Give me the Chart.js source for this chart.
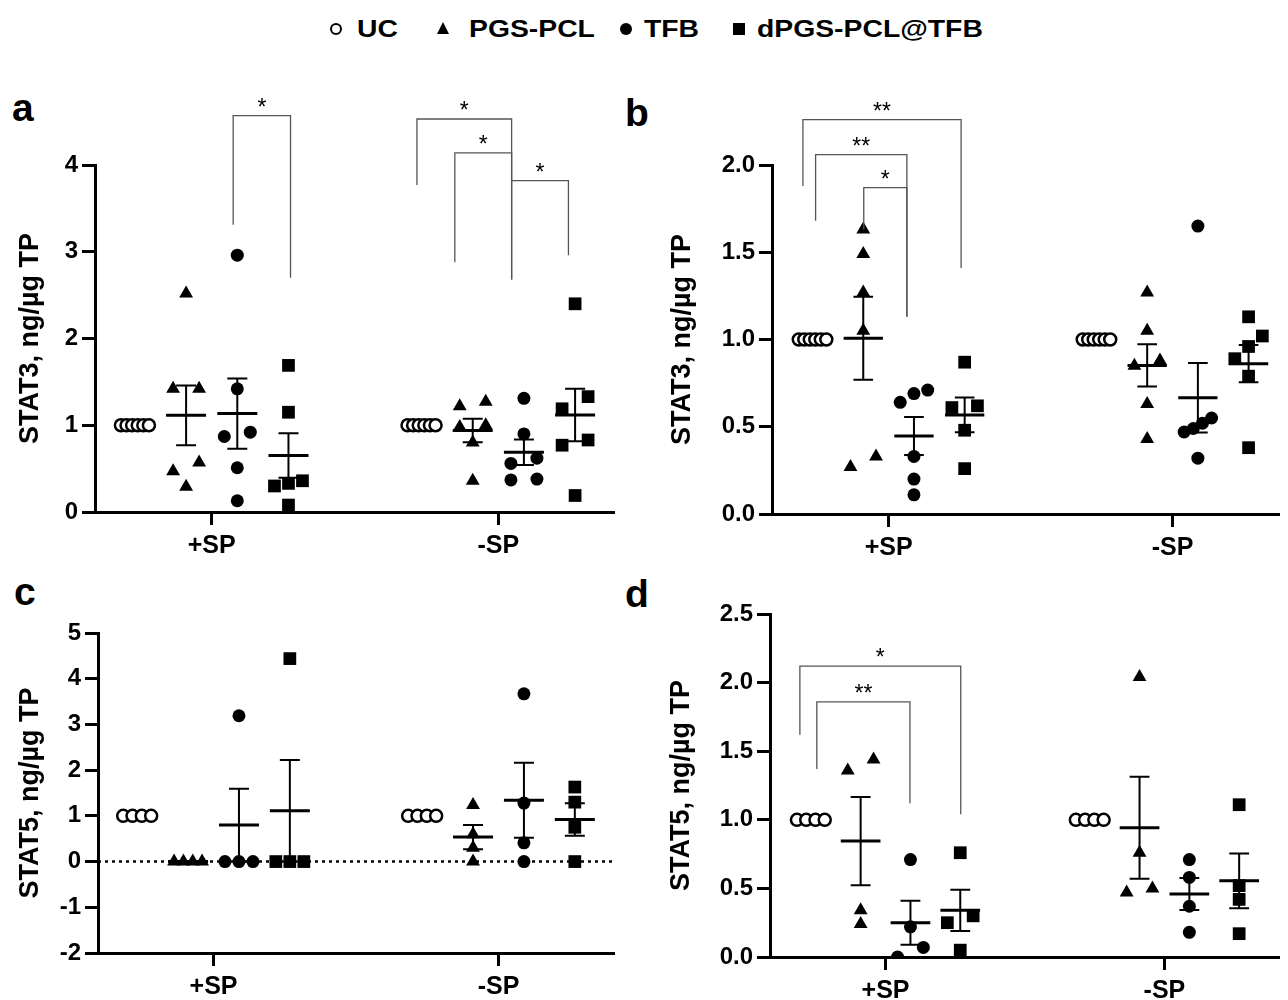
<!DOCTYPE html>
<html>
<head>
<meta charset="utf-8">
<script src="https://cdn.jsdelivr.net/npm/chart.js@4.4.1/dist/chart.umd.min.js"></script>
<style>
  body { margin: 0; background: #fff; width: 1288px; height: 1000px; position: relative; overflow: hidden;
         font-family: "Liberation Sans", Arial, sans-serif; }
  canvas { position: absolute; }
  .letra { position: absolute; font-weight: bold; font-size: 39px; line-height: 39px; }
  .tx { position: absolute; top: 17px; font-weight: bold; font-size: 24px; line-height: 24px;
        transform: scaleX(1.18); transform-origin: left center; white-space: nowrap; }
  .mk { position: absolute; box-sizing: border-box; }
</style>
</head>
<body>
<div class="mk" style="left:330px;top:23px;width:12px;height:12px;border:2.5px solid #000;border-radius:50%"></div>
<div class="tx" style="left:357px">UC</div>
<div class="mk" style="left:437px;top:22px;width:0;height:0;border-left:6px solid transparent;border-right:6px solid transparent;border-bottom:12px solid #000"></div>
<div class="tx" style="left:469px">PGS-PCL</div>
<div class="mk" style="left:620px;top:23px;width:12px;height:12px;background:#000;border-radius:50%"></div>
<div class="tx" style="left:644px">TFB</div>
<div class="mk" style="left:733px;top:23px;width:12px;height:12px;background:#000"></div>
<div class="tx" style="left:757px">dPGS-PCL@TFB</div>

<div class="letra" style="left:12px;top:88px">a</div>
<div class="letra" style="left:625px;top:93px">b</div>
<div class="letra" style="left:14px;top:572px">c</div>
<div class="letra" style="left:625px;top:574px">d</div>

<canvas id="pa" width="640" height="480" style="left:0;top:90px"></canvas>
<canvas id="pb" width="648" height="480" style="left:640px;top:90px"></canvas>
<canvas id="pc" width="640" height="420" style="left:0;top:580px"></canvas>
<canvas id="pd" width="648" height="420" style="left:640px;top:580px"></canvas>

<script>
// Grupos del eje X y series (UC, PGS-PCL, TFB, dPGS-PCL@TFB)
const grupos = ['+SP', '-SP'];
const series = ['UC', 'PGS-PCL', 'TFB', 'dPGS-PCL@TFB'];

// a: STAT3 (cada array: [+SP], [-SP])
const a_UC   = [[1, 1, 1, 1, 1, 1], [1, 1, 1, 1, 1, 1]];
const a_PGS  = [[2.52, 1.42, 1.42, 0.57, 0.47, 0.29], [1.22, 1.27, 0.98, 1.00, 0.80, 0.36]];
const a_TFB  = [[2.96, 1.42, 0.87, 0.92, 0.51, 0.13], [1.31, 0.90, 0.62, 0.56, 0.38, 0.37]];
const a_dPGS = [[1.69, 1.15, 0.36, 0.33, 0.30, 0.08], [2.40, 1.33, 1.19, 0.83, 0.77, 0.19]];

// b: STAT3
const b_UC   = [[1, 1, 1, 1, 1, 1], [1, 1, 1, 1, 1, 1]];
const b_PGS  = [[1.63, 1.49, 1.27, 1.05, 0.27, 0.33], [1.27, 1.05, 0.85, 0.88, 0.63, 0.43]];
const b_TFB  = [[0.69, 0.71, 0.64, 0.33, 0.20, 0.11], [1.65, 0.55, 0.52, 0.49, 0.47, 0.32]];
const b_dPGS = [[0.87, 0.61, 0.62, 0.48, 0.26], [1.13, 1.02, 0.96, 0.89, 0.79, 0.38]];

// c: STAT5
const c_UC   = [[1, 1, 1, 1], [1, 1, 1, 1]];
const c_PGS  = [[0, 0, 0, 0], [1.24, 0.60, 0.30, 0]];
const c_TFB  = [[3.19, 0, 0, 0], [3.67, 1.28, 0.41, 0]];
const c_dPGS = [[4.44, 0, 0, 0], [1.63, 1.30, 0.75, 0]];

// d: STAT5
const d_UC   = [[1, 1, 1, 1], [1, 1, 1, 1]];
const d_PGS  = [[1.36, 1.44, 0.34, 0.24], [2.04, 0.76, 0.47, 0.50]];
const d_TFB  = [[0.71, 0.22, 0.07, 0], [0.71, 0.58, 0.37, 0.18]];
const d_dPGS = [[0.76, 0.30, 0.25, 0.05], [1.11, 0.52, 0.42, 0.17]];

// ticks del eje Y
const a_ticks = [0, 1, 2, 3, 4];
const b_ticks = [0, 0.5, 1, 1.5, 2];
const b_tickLabels = ['0.0', '0.5', '1.0', '1.5', '2.0'];
const c_ticks = [-2, -1, 0, 1, 2, 3, 4, 5];
const d_ticks = [0, 0.5, 1, 1.5, 2, 2.5];
const d_tickLabels = ['0.0', '0.5', '1.0', '1.5', '2.0', '2.5'];

// corchetes de significancia: [x1, x2, yArriba, yPataIzq, yPataDer, texto]
const a_sig = [[1.92, 3.04, 4.57, 3.31, 2.70, '*'], [5.51, 7.36, 4.53, 3.77, 2.68, '*'],
               [6.25, 7.36, 4.14, 2.88, 2.68, '*'], [7.36, 8.47, 3.82, 3.82, 2.96, '*']];
const b_sig = [[-0.19, 2.93, 2.26, 1.88, 1.41, '**'], [0.06, 1.86, 2.06, 1.68, 1.13, '**'],
               [1.01, 1.86, 1.87, 1.63, 1.13, '*']];
const d_sig = [[-0.22, 3.01, 2.12, 1.62, 1.04, '*'], [0.12, 1.99, 1.86, 1.37, 1.12, '**']];

Chart.defaults.font.family = '"Liberation Sans", Arial, sans-serif';
Chart.defaults.color = '#000';

const centrosGrupo = [1.5, 7.1];
const posSerie = [-1.5, -0.5, 0.5, 1.5];
const estilos = [
  { pointStyle: 'circle', pointRadius: 6, backgroundColor: '#fff', borderColor: '#000', borderWidth: 2.5 },
  { pointStyle: 'triangle', pointRadius: 8, backgroundColor: '#000', borderColor: '#000', borderWidth: 0 },
  { pointStyle: 'circle', pointRadius: 6.5, backgroundColor: '#000', borderColor: '#000', borderWidth: 0 },
  { pointStyle: 'rect', pointRadius: 9, backgroundColor: '#000', borderColor: '#000', borderWidth: 0 }
];

// reparte en fila los puntos que se pisan (como en Prism)
function enjambre(vals, cx, pxX, pxY) {
  const idx = vals.map((v, i) => i).sort((i, j) => vals[i] - vals[j]);
  const filas = [];
  idx.forEach(i => {
    const f = filas[filas.length - 1];
    if (f && (vals[i] - vals[f[f.length - 1]]) * pxY < 12.5) f.push(i);
    else filas.push([i]);
  });
  const pts = [];
  filas.forEach(f => {
    const k = f.length;
    const paso = k > 1 ? Math.min(26, 28 / (k - 1)) : 0;
    f.forEach((i, j) => pts.push({ x: cx + (j - (k - 1) / 2) * paso / pxX, y: vals[i] }));
  });
  return pts;
}

function resumen(v) {
  const n = v.length;
  const m = v.reduce((s, x) => s + x, 0) / n;
  const sd = Math.sqrt(v.reduce((s, x) => s + (x - m) ** 2, 0) / (n - 1));
  return { m, sem: sd / Math.sqrt(n) };
}

const corchetes = {
  id: 'corchetes',
  afterDraw(chart, args, opts) {
    const { ctx, scales: { x, y } } = chart;
    ctx.save();
    ctx.strokeStyle = '#555';
    ctx.lineWidth = 1.3;
    ctx.fillStyle = '#000';
    ctx.font = '23px "Liberation Sans", Arial, sans-serif';
    ctx.textAlign = 'center';
    ctx.textBaseline = 'alphabetic';
    (opts.items || []).forEach(([x1, x2, yt, yi, yd, txt]) => {
      const p1 = x.getPixelForValue(x1), p2 = x.getPixelForValue(x2), pt = y.getPixelForValue(yt);
      ctx.beginPath();
      ctx.moveTo(p1, y.getPixelForValue(yi));
      ctx.lineTo(p1, pt);
      ctx.lineTo(p2, pt);
      ctx.lineTo(p2, y.getPixelForValue(yd));
      ctx.stroke();
      ctx.fillText(txt, (p1 + p2) / 2, pt - 1);
    });
    ctx.restore();
  }
};

function crearPanel(id, cfg) {
  const plotW = cfg.w - cfg.yW - cfg.padR;
  const plotH = cfg.h - cfg.padT - cfg.xH;
  const pxX = plotW / (cfg.xMax - cfg.xMin);
  const pxY = plotH / (cfg.yMax - cfg.yMin);
  const hw = 20 / pxX, cw = 10 / pxX;
  const hueco = () => ({ x: null, y: null });

  const medias = [], barras = [];
  const datasets = cfg.datos.map((serie, s) => {
    const pts = [];
    serie.forEach((vals, g) => {
      const cx = centrosGrupo[g] + posSerie[s];
      pts.push(...enjambre(vals, cx, pxX, pxY));
      const { m, sem } = resumen(vals);
      medias.push({ x: cx - hw, y: m }, { x: cx + hw, y: m }, hueco());
      if (sem > 0) {
        barras.push({ x: cx, y: m - sem }, { x: cx, y: m + sem }, hueco(),
          { x: cx - cw, y: m + sem }, { x: cx + cw, y: m + sem }, hueco(),
          { x: cx - cw, y: m - sem }, { x: cx + cw, y: m - sem }, hueco());
      }
    });
    return Object.assign({ label: series[s], data: pts, pointHoverRadius: 0 }, estilos[s]);
  });
  const linea = (data, w, dash) => ({ data, showLine: true, borderColor: '#000', borderWidth: w,
    borderDash: dash || [], pointRadius: 0, spanGaps: false });
  datasets.push(linea(medias, 3), linea(barras, 2));
  if (cfg.cero) datasets.push(linea([{ x: cfg.xMin, y: 0 }, { x: cfg.xMax, y: 0 }], 2.5, [3, 4]));

  new Chart(document.getElementById(id), {
    type: 'scatter',
    data: { datasets },
    plugins: [corchetes],
    options: {
      responsive: false,
      animation: false,
      events: [],
      layout: { padding: { top: cfg.padT, right: cfg.padR, left: 0, bottom: 0 } },
      plugins: { legend: { display: false }, tooltip: { enabled: false }, corchetes: { items: cfg.sig || [] } },
      scales: {
        x: {
          type: 'linear', min: cfg.xMin, max: cfg.xMax,
          afterBuildTicks: s => { s.ticks = centrosGrupo.map(v => ({ value: v })); },
          afterFit: s => { s.height = cfg.xH; },
          ticks: { callback: (v, i) => grupos[i], font: { size: 25, weight: 'bold' }, color: '#000',
                   padding: 6, maxRotation: 0, autoSkip: false },
          grid: { drawOnChartArea: false, drawTicks: true, tickLength: 13, tickWidth: 3, tickColor: '#000' },
          border: { color: '#000', width: 3 }
        },
        y: {
          min: cfg.yMin, max: cfg.yMax,
          afterBuildTicks: s => { s.ticks = cfg.ticks.map(v => ({ value: v })); },
          afterFit: s => { s.width = cfg.yW; },
          ticks: { callback: (v, i) => cfg.tickLabels[i], font: { size: 24, weight: 'bold' }, color: '#000', padding: 4 },
          grid: { drawOnChartArea: false, drawTicks: true, tickLength: 13, tickWidth: 3, tickColor: '#000' },
          border: { color: '#000', width: 3 },
          title: { display: true, text: cfg.titulo, font: { size: 27, weight: 'bold' }, color: '#000',
                   padding: { top: cfg.titPad, bottom: 0 } }
        }
      }
    }
  });
}

crearPanel('pa', { w: 640, h: 480, yW: 95, padR: 26, padT: 75, xH: 58, xMin: -0.78, xMax: 9.36,
  yMin: 0, yMax: 4, ticks: a_ticks, tickLabels: a_ticks.map(String), titulo: 'STAT3, ng/µg TP', titPad: 14,
  datos: [a_UC, a_PGS, a_TFB, a_dPGS], sig: a_sig });
crearPanel('pb', { w: 648, h: 480, yW: 132, padR: 0, padT: 75, xH: 56, xMin: -0.8, xMax: 9.2,
  yMin: 0, yMax: 2, ticks: b_ticks, tickLabels: b_tickLabels, titulo: 'STAT3, ng/µg TP', titPad: 26,
  datos: [b_UC, b_PGS, b_TFB, b_dPGS], sig: b_sig });
crearPanel('pc', { w: 640, h: 420, yW: 98, padR: 26, padT: 53, xH: 47, xMin: -0.77, xMax: 9.37,
  yMin: -2, yMax: 5, ticks: c_ticks, tickLabels: c_ticks.map(String), titulo: 'STAT5, ng/µg TP', titPad: 14,
  datos: [c_UC, c_PGS, c_TFB, c_dPGS], cero: true });
crearPanel('pd', { w: 648, h: 420, yW: 130, padR: 5, padT: 34, xH: 43, xMin: -0.82, xMax: 9.4,
  yMin: 0, yMax: 2.5, ticks: d_ticks, tickLabels: d_tickLabels, titulo: 'STAT5, ng/µg TP', titPad: 25,
  datos: [d_UC, d_PGS, d_TFB, d_dPGS], sig: d_sig });
</script>
</body>
</html>
